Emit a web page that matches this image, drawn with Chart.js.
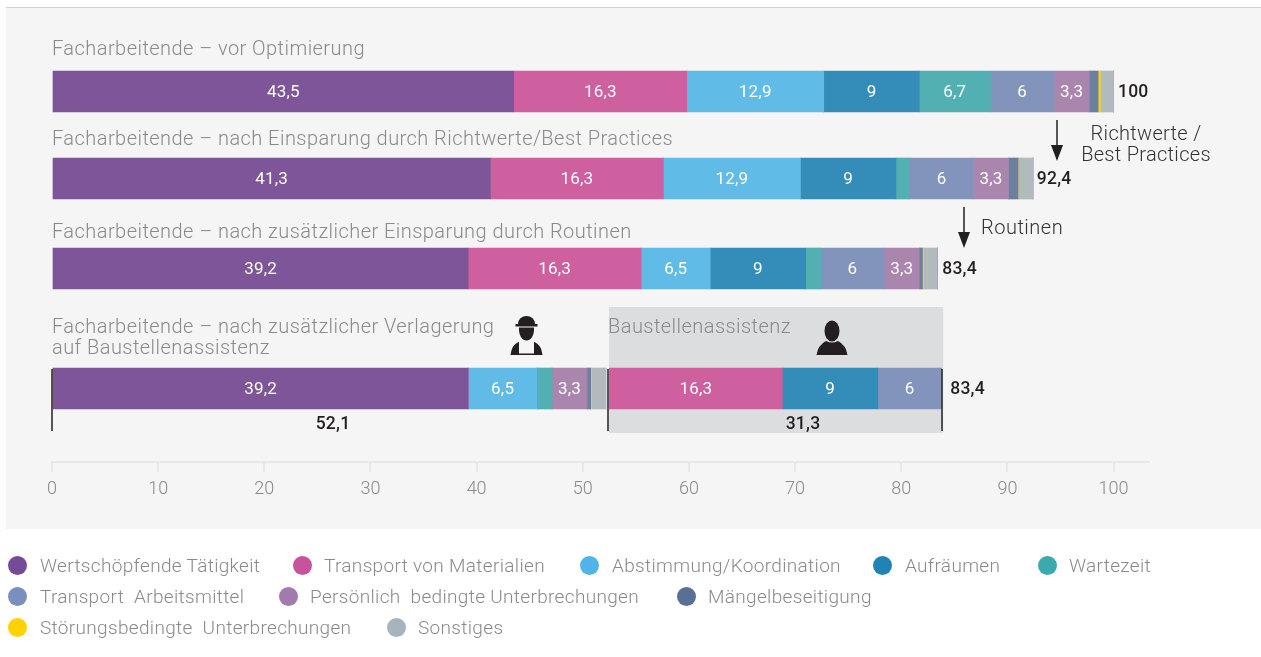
<!DOCTYPE html>
<html lang="de">
<head>
<meta charset="utf-8">
<title>Facharbeitende</title>
<script src="https://cdn.jsdelivr.net/npm/chart.js@4/dist/chart.umd.js"></script>
<style>
html,body{margin:0;padding:0;background:#fff;width:1261px;height:657px;overflow:hidden}
#wrap{position:absolute;left:0;top:0;width:1261px;height:529px}
#legend{position:absolute;left:0;top:0;width:1261px;height:657px;pointer-events:none;font:300 19px Roboto,sans-serif;letter-spacing:.33px;color:#8a8a8a}
.dot{position:absolute;width:19px;height:19px;border-radius:50%}
.lt{position:absolute;white-space:pre;line-height:22px}
</style>
</head>
<body>
<div id="wrap"><canvas id="c" width="1261" height="529"></canvas></div>
<div id="legend"></div>
<script>
// ---- data ----
const rows = [
  "Facharbeitende – vor Optimierung",
  "Facharbeitende – nach Einsparung durch Richtwerte/Best Practices",
  "Facharbeitende – nach zusätzlicher Einsparung durch Routinen",
  "Facharbeitende – nach zusätzlicher Verlagerung"
];
const seriesNames = ["Wertschöpfende Tätigkeit","Transport von Materialien","Abstimmung/Koordination","Aufräumen","Wartezeit",
  "Transport  Arbeitsmittel","Persönlich  bedingte Unterbrechungen","Mängelbeseitigung","Störungsbedingte  Unterbrechungen","Sonstiges"];
const wertschoepfend = [43.5, 41.3, 39.2, 39.2];
const materialien    = [16.3, 16.3, 16.3, 0];
const abstimmung     = [12.9, 12.9, 6.5, 6.5];
const aufraeumen     = [9, 9, 9, 0];
const wartezeit      = [6.7, 1.3, 1.4, 1.4];
const arbeitsmittel  = [6, 6, 6, 0];
const persoenlich    = [3.3, 3.3, 3.3, 3.3];
const maengel        = [0.85, 0.9, 0.3, 0.35];
const stoerung       = [0.2, 0, 0.08, 0.08];
const sonstiges      = [1.25, 1.4, 1.32, 1.37];
// portion moved to the site assistant (fourth row, right part)
const gapBeforeAssistenz = [0, 0, 0, 0.3];
const materialienAssistenz   = [0, 0, 0, 16.3];
const aufraeumenAssistenz    = [0, 0, 0, 9];
const arbeitsmittelAssistenz = [0, 0, 0, 6];
const totals = [100, 92.4, 83.4, 83.4];
const subTotals = [52.1, 31.3];
const tickValues = [0,10,20,30,40,50,60,70,80,90,100];

// ---- styles ----
const barColors = ["#7e5599","#cf60a0","#60bce6","#348cb8","#52b0b3","#8294bc","#aa86ae","#6b7f9e","#ffd500","#b2babd"];
const legendColors = ["#764a98","#c9529e","#4fb5e8","#1f83b5","#3aaaad","#7a8fbf","#a27aab","#596f96","#ffd200","#a7b4bd"];
const FONT = "Roboto, sans-serif";
const GREY = "#8a8a8a", DARK = "#231f20";
const rowCenterPx = [91.5, 178.5, 268.5, 388.5];
const totalGapPx = [4.5, 4, 5, 13];
const legendPlaces = [[17,40,566],[302,324,566],[589,612,566],[882,905,566],[1047,1069,566],
                      [17,40,597],[288,310,597],[686,708,597],[17,40,628],[396,418,628]];

// HTML legend
const lg = document.getElementById('legend');
seriesNames.forEach((n,i)=>{
  const [dx,tx,y]=legendPlaces[i];
  const d=document.createElement('div');d.className='dot';d.style.cssText=`left:${dx-9.5}px;top:${y-10.5}px;background:${legendColors[i]}`;
  const t=document.createElement('div');t.className='lt';t.style.cssText=`left:${tx}px;top:${y-11}px`;t.textContent=n;
  lg.append(d,t);
});

// Category scale with uneven row spacing
class RowScale extends Chart.CategoryScale {
  getPixelForValue(value){
    const i = typeof value === 'number' ? value : this.parse(value);
    return rowCenterPx[i];
  }
}
RowScale.id = 'rows';
RowScale.defaults = Chart.CategoryScale.defaults;
Chart.register(RowScale);

const de = v => String(v).replace('.',',');
function txt(ctx,s,x,y,font,color,align,spacing){
  ctx.font=font;ctx.fillStyle=color;ctx.textAlign=align||'left';ctx.textBaseline='middle';
  ctx.letterSpacing=(spacing===undefined?0.45:spacing)+'px';
  ctx.fillText(s,x,y);ctx.letterSpacing='0px';
}
function arrow(ctx,x,y0,y1){
  ctx.strokeStyle=DARK;ctx.fillStyle=DARK;ctx.lineWidth=1.5;
  ctx.beginPath();ctx.moveTo(x,y0);ctx.lineTo(x,y1-12);ctx.stroke();
  ctx.beginPath();ctx.moveTo(x-6,y1-16);ctx.lineTo(x+6,y1-16);ctx.lineTo(x,y1);ctx.closePath();ctx.fill();
}
function worker(ctx,cx){
  ctx.fillStyle=DARK;
  // helmet dome and brim
  ctx.beginPath();ctx.ellipse(cx,324,8.5,8,0,Math.PI,0);ctx.fill();
  ctx.fillRect(cx-11,324,22,2.5);
  // head
  ctx.beginPath();ctx.moveTo(cx-7.5,327.5);ctx.lineTo(cx+7.5,327.5);ctx.bezierCurveTo(cx+8,336,cx+4,340.5,cx,340.5);ctx.bezierCurveTo(cx-4,340.5,cx-8,336,cx-7.5,327.5);ctx.fill();
  // shoulders
  ctx.beginPath();ctx.moveTo(cx-16,355);ctx.quadraticCurveTo(cx-15,345,cx-8,342);ctx.lineTo(cx+8,342);
  ctx.quadraticCurveTo(cx+15,345,cx+16,355);ctx.closePath();ctx.fill();
  // bib
  ctx.fillStyle="#f5f5f5";ctx.fillRect(cx-7.5,342,15,11.5);
}
function person(ctx,cx){
  ctx.fillStyle=DARK;
  ctx.beginPath();ctx.ellipse(cx,331,7.5,10.5,0,0,Math.PI*2);ctx.fill();
  ctx.beginPath();ctx.moveTo(cx-15.5,355);ctx.quadraticCurveTo(cx-14,345,cx-6,341);
  ctx.quadraticCurveTo(cx,344,cx+6,341);ctx.quadraticCurveTo(cx+14,345,cx+15.5,355);ctx.closePath();ctx.fill();
}

const decor = {
  id:'decor',
  beforeDraw(chart){
    const c=chart.ctx;
    c.save();
    c.fillStyle="#f5f5f5";c.fillRect(6,7,1255,522);
    c.fillStyle="#d2d2d2";c.fillRect(6,7,1255,1);
    const x=chart.scales.x;
    c.fillStyle="#dcdddf";
    const bx=x.getPixelForValue(52.47),ex=x.getPixelForValue(83.95);
    c.fillRect(bx,307,ex-bx,126);
    c.restore();
  },
  afterDatasetsDraw(chart){
    const c=chart.ctx, x=chart.scales.x, y=chart.scales.y;
    c.save();
    // segment values
    chart.data.datasets.forEach((ds,di)=>{
      if(ds.noLabel) return;
      chart.getDatasetMeta(di).data.forEach((bar,i)=>{
        const v=ds.data[i];
        if(v>=3){
          const p=bar.getProps(['x','base','y']);
          txt(c,de(v),(p.x+p.base)/2,p.y+1,`400 17px ${FONT}`,"#ffffff",'center',0.2);
        }
      });
    });
    // row titles
    const tf=`300 20px ${FONT}`;
    txt(c,rows[0],52,50,tf,GREY);
    txt(c,rows[1],52,140,tf,GREY);
    txt(c,rows[2],52,233,tf,GREY);
    txt(c,rows[3],52,328,tf,GREY);
    txt(c,"auf Baustellenassistenz",52,349,tf,GREY);
    txt(c,"Baustellenassistenz",608,328,tf,GREY);
    // totals
    const bf=`500 17.5px ${FONT}`;
    totals.forEach((t,i)=>txt(c,de(t),x.getPixelForValue(t)+totalGapPx[i],y.getPixelForValue(i)+1,bf,DARK,'left',0.2));
    txt(c,de(subTotals[0]),333,425,bf,DARK,'center',0.2);
    txt(c,de(subTotals[1]),803,425,bf,DARK,'center',0.2);
    // brackets
    c.strokeStyle=DARK;c.lineWidth=1.5;
    [0,52.4,83.85].forEach(v=>{
      const px=Math.round(x.getPixelForValue(v));
      c.beginPath();c.moveTo(px,369);c.lineTo(px,431);c.stroke();
    });
    // arrows and notes
    arrow(c,1057,120,161);
    arrow(c,964,207,248);
    const nf=`300 20px ${FONT}`;
    txt(c,"Richtwerte /",1146,135,nf,"#333333",'center',0.3);
    txt(c,"Best Practices",1146,156,nf,"#333333",'center',0.3);
    txt(c,"Routinen",981,229,nf,"#333333",'left',0.5);
    worker(c,526.5);
    person(c,832);
    c.restore();
  }
};

const seriesData=[wertschoepfend,materialien,abstimmung,aufraeumen,wartezeit,arbeitsmittel,persoenlich,maengel,stoerung,sonstiges];
const datasets=seriesData.map((d,i)=>({label:seriesNames[i],data:d,backgroundColor:barColors[i]}));
datasets.push({label:"Abstand",data:gapBeforeAssistenz,backgroundColor:"rgba(0,0,0,0)",noLabel:true});
datasets.push({label:seriesNames[1],data:materialienAssistenz,backgroundColor:barColors[1]});
datasets.push({label:seriesNames[3],data:aufraeumenAssistenz,backgroundColor:barColors[3]});
datasets.push({label:seriesNames[5],data:arbeitsmittelAssistenz,backgroundColor:barColors[5]});

new Chart(document.getElementById('c'),{
  type:'bar',
  data:{labels:rows,datasets},
  options:{
    indexAxis:'y',
    responsive:false,
    animation:false,
    barThickness:41,
    layout:{padding:{left:52,right:112,top:0,bottom:0}},
    plugins:{legend:{display:false},tooltip:{enabled:false}},
    scales:{
      y:{type:'rows',stacked:true,display:false},
      x:{
        type:'linear',stacked:true,min:0,max:103.34,position:'bottom',
        afterFit(s){s.height=67;},
        afterBuildTicks(s){s.ticks=tickValues.map(v=>({value:v}));},
        grid:{drawOnChartArea:false,drawTicks:true,tickLength:10,color:"#e8e8e8",lineWidth:2},
        border:{color:"#e8e8e8",width:2},
        ticks:{color:GREY,padding:7,maxRotation:0,autoSkip:false,font:{family:FONT,size:18,weight:'300'},
          callback:v=>String(v)}
      }
    }
  },
  plugins:[decor]
});
</script>
</body>
</html>
